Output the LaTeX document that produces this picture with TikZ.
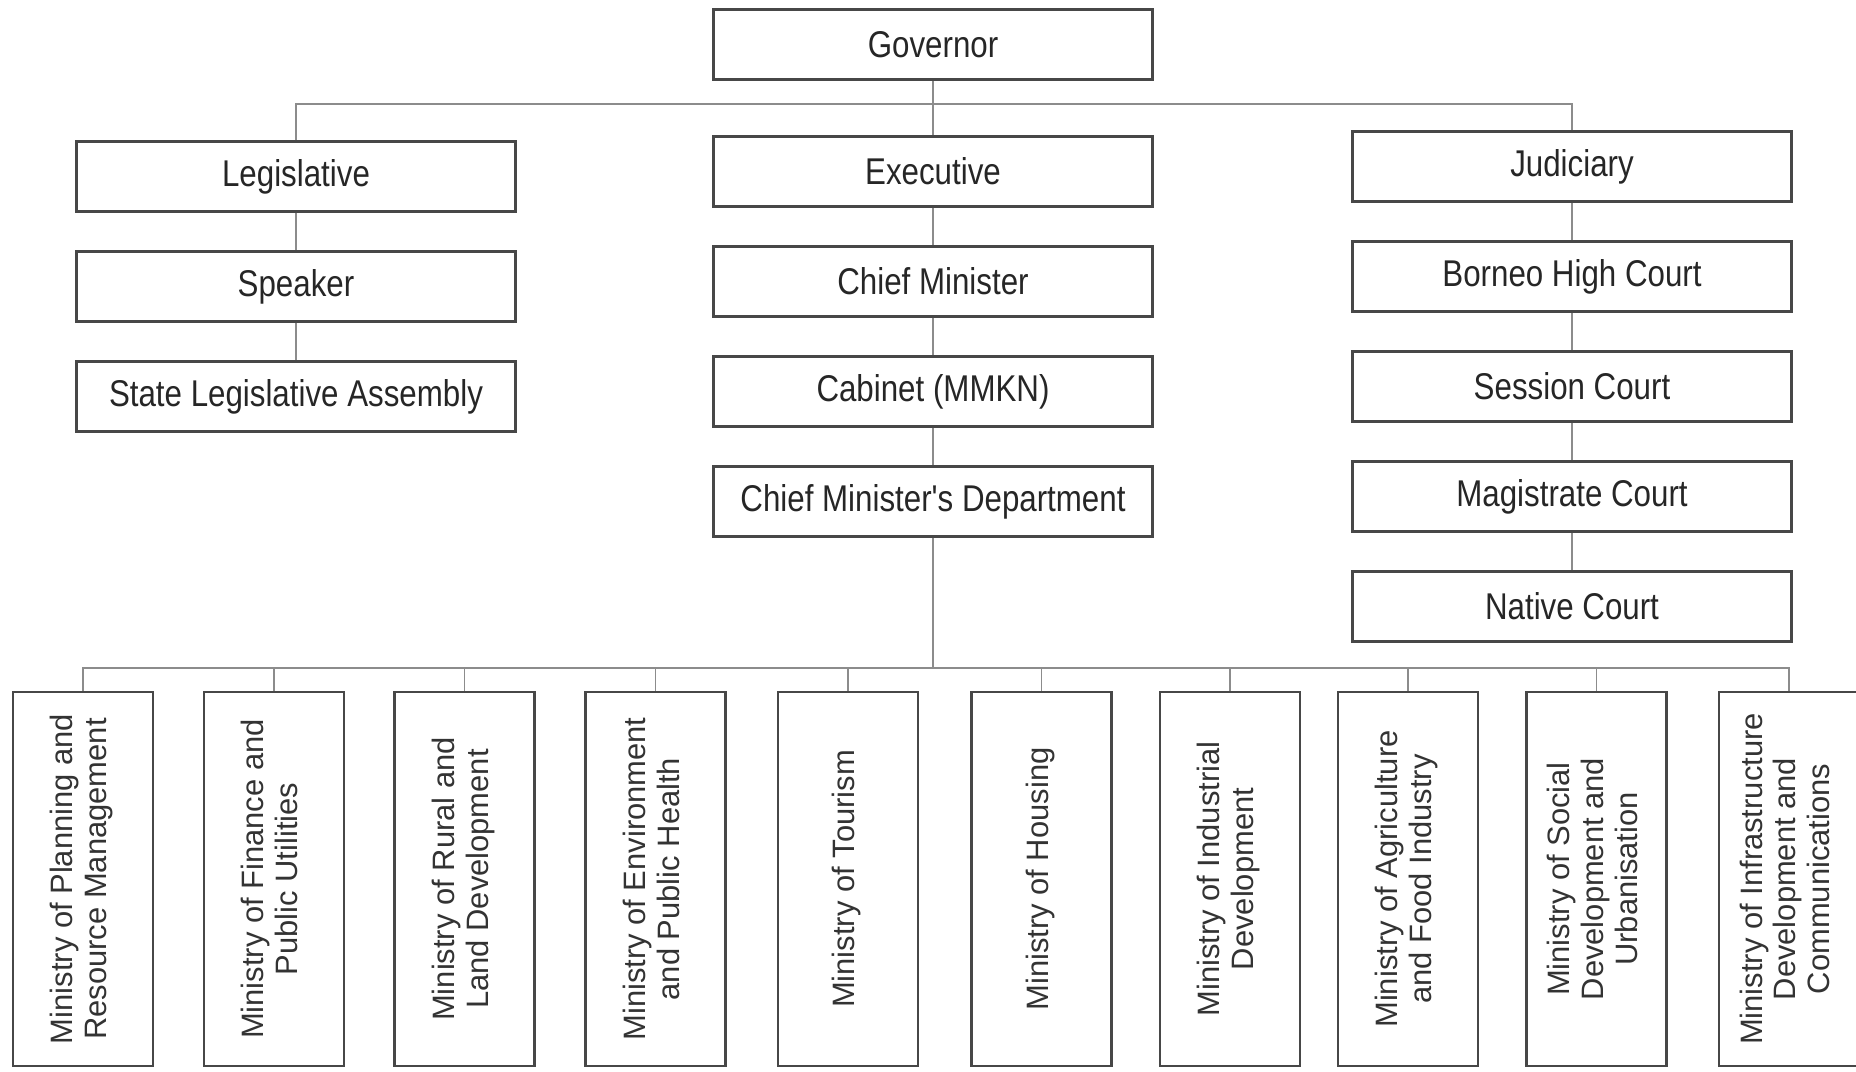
\documentclass[tikz,border=0pt]{standalone}
\usepackage{fontspec}
\setmainfont{Liberation Sans}
\newfontfamily\narrowfont[FakeStretch=0.84]{Liberation Sans}
\usepackage{graphicx}
\usetikzlibrary{positioning}

\begin{document}
\begin{tikzpicture}[auto, node distance=1.1cm]
\tikzstyle{block} = [draw=black!72, line width=0.8pt, rectangle, minimum height=0.70cm, minimum width=4.39cm, inner sep=0pt, font=\narrowfont\fontsize{10.6}{12}\selectfont, text=black!85]
\tikzstyle{ministry} = [draw=black!72, line width=0.8pt, rectangle, minimum width=1.40cm, minimum height=3.74cm, inner sep=0pt, font=\fontsize{8.8}{9.6}\selectfont, text=black!80]
\tikzstyle{link} = [draw=black!45, line width=0.5pt]

\def\minlabel#1{\rotatebox{90}{\begin{tabular}{@{}c@{}}#1\end{tabular}}}

\useasboundingbox (0,0) rectangle (18.56,-10.72);

    % top of the tree
    \node [block] (governor) at (9.33,-0.445) {Governor};

    \node [block] (legislative) at (2.96,-1.765) {Legislative};
    \node [block, below of = legislative] (speaker) {Speaker};
    \node [block, below of = speaker] (assembly) {State Legislative Assembly};

    \node [block] (executive) at (9.33,-1.715) {Executive};
    \node [block, below of = executive] (chiefmin) {Chief Minister};
    \node [block, below of = chiefmin] (cabinet) {Cabinet (MMKN)};
    \node [block, below of = cabinet] (cmdept) {Chief Minister's Department};

    \node [block] (judiciary) at (15.72,-1.665) {Judiciary};
    \node [block, below of = judiciary] (highcourt) {Borneo High Court};
    \node [block, below of = highcourt] (session) {Session Court};
    \node [block, below of = session] (magistrate) {Magistrate Court};
    \node [block, below of = magistrate] (native) {Native Court};

    % the ministries
    \node [ministry] (m1) at (0.83,-8.79) {\minlabel{Ministry of Planning and\\Resource Management}};
    \node [ministry] (m2) at (2.74,-8.79) {\minlabel{Ministry of Finance and\\Public Utilities}};
    \node [ministry] (m3) at (4.645,-8.79) {\minlabel{Ministry of Rural and\\Land Development}};
    \node [ministry] (m4) at (6.555,-8.79) {\minlabel{Ministry of Environment\\and Public Health}};
    \node [ministry] (m5) at (8.48,-8.79) {\minlabel{Ministry of Tourism}};
    \node [ministry] (m6) at (10.415,-8.79) {\minlabel{Ministry of Housing}};
    \node [ministry] (m7) at (12.30,-8.79) {\minlabel{Ministry of Industrial\\Development}};
    \node [ministry] (m8) at (14.08,-8.79) {\minlabel{Ministry of Agriculture\\and Food Industry}};
    \node [ministry] (m9) at (15.965,-8.79) {\minlabel{Ministry of Social\\Development and\\Urbanisation}};
    \node [ministry] (m10) at (17.89,-8.79) {\minlabel{Ministry of Infrastructure\\Development and\\Communications}};

    \coordinate (topbus) at (9.33,-1.04);
    \coordinate (botbus) at (9.33,-6.68);

    % connecting them
    \draw [link] (governor) -- (executive);
    \draw [link] (legislative.north) |- (topbus) -| (judiciary.north);
    \draw [link] (legislative) -- (speaker);
    \draw [link] (speaker) -- (assembly);
    \draw [link] (executive) -- (chiefmin);
    \draw [link] (chiefmin) -- (cabinet);
    \draw [link] (cabinet) -- (cmdept);
    \draw [link] (judiciary) -- (highcourt);
    \draw [link] (highcourt) -- (session);
    \draw [link] (session) -- (magistrate);
    \draw [link] (magistrate) -- (native);
    \draw [link] (cmdept) -- (botbus);
    \draw [link] (m1.north) |- (botbus) -| (m10.north);
    \foreach \i in {2,...,9}
        \draw [link] (m\i.north) -- (m\i.north |- botbus);

\end{tikzpicture}
\end{document}
